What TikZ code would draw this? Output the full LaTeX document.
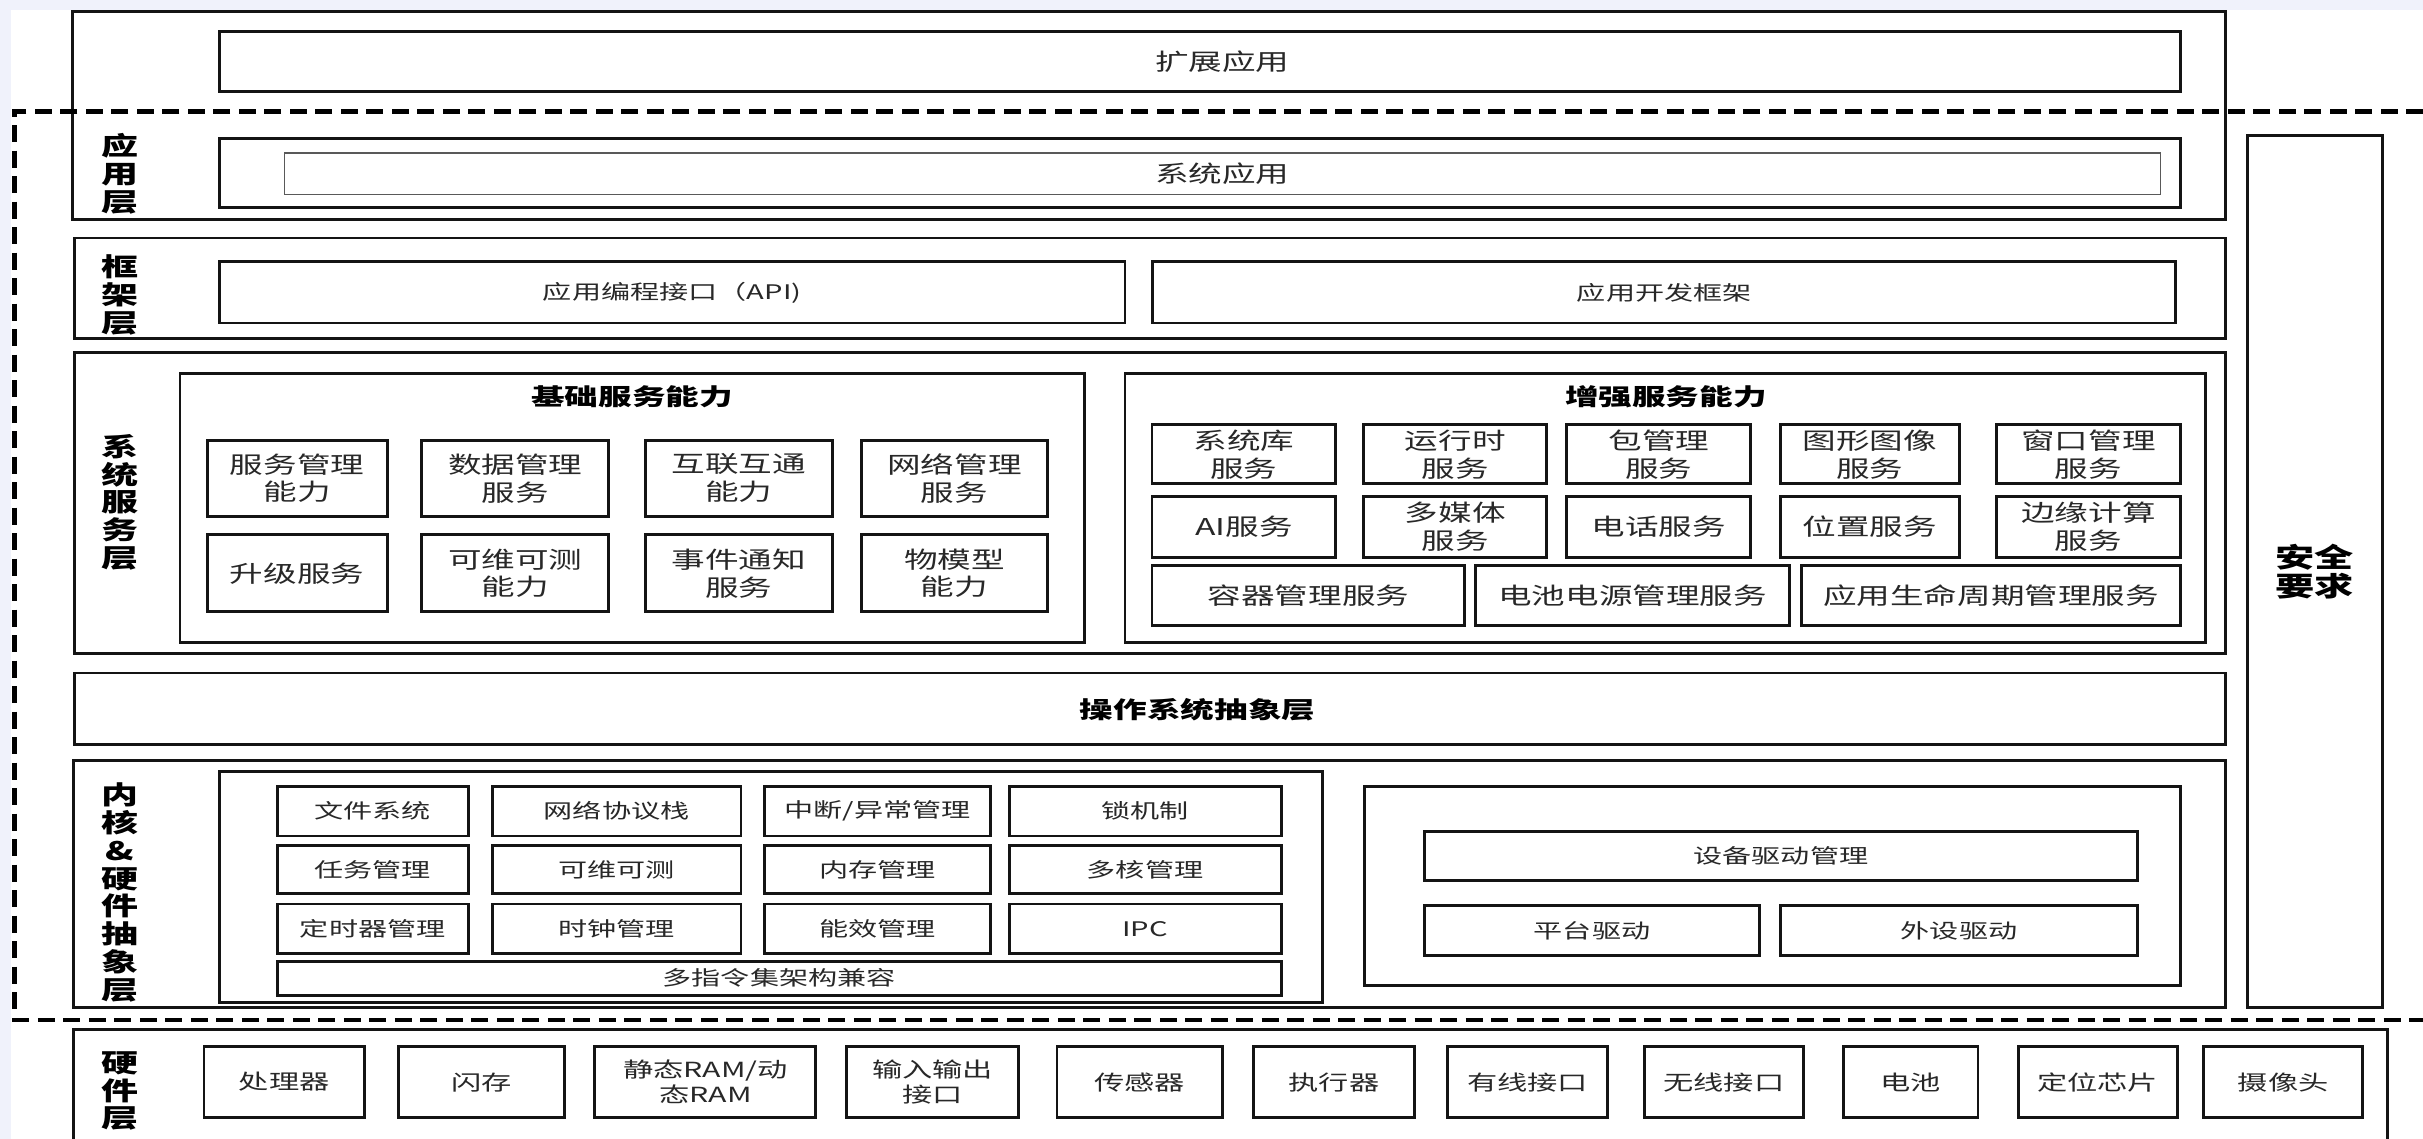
\documentclass[tikz,border=0pt]{standalone}
\usepackage{fontspec}
\setmainfont{Noto Sans CJK SC}[FakeStretch=1.45]
\usepackage{tikz}
\usetikzlibrary{positioning}

\definecolor{stripbg}{RGB}{240,242,251}
\definecolor{inkline}{RGB}{20,20,20}
\definecolor{inktext}{RGB}{40,40,40}

\begin{document}
\begin{tikzpicture}[
  x=1pt, y=-1pt,
  layer/.style={draw=inkline, line width=1.9pt, inner sep=0pt, outer sep=0pt},
  cell/.style={layer, align=center, text=inktext, font={\fontsize{15}{18}\selectfont}},
  kcell/.style={cell, font={\fontsize{13}{16}\selectfont}},
  hwcell/.style={cell, minimum height=45.5pt, font={\fontsize{13.5}{16}\selectfont}},
  lyrlabel/.style={align=center, text=black, font={\fontsize{16.5}{18}\selectfont\bfseries}},
  title/.style={text=black, font={\fontsize{15}{18}\selectfont\bfseries}},
]
\useasboundingbox (0,0) rectangle (1568,737);
\clip (0,0) rectangle (1568,737);
\fill[white] (0,0) rectangle (1568,737);
\fill[stripbg] (0,0) rectangle (1568,6.5);
\fill[stripbg] (0,0) rectangle (7,737);

% application layer
\node[layer, minimum width=1393pt, minimum height=134.5pt] (applyr) at (743.5,74.75) {};
\node[layer, minimum width=1269pt, minimum height=38.5pt] (extapp) at (776.5,39.75) {};
\node[text=inktext, font={\fontsize{15}{18}\selectfont}] (extapptxt) at (791,40) {扩展应用};
\node[layer, minimum width=1269pt, minimum height=44.5pt] (sysappout) at (776.5,111.75) {};
\node[cell, draw=black!65, line width=1pt, minimum width=1214pt, minimum height=27pt] (sysapp) at (791,112.5) {系统应用};
\node[lyrlabel] (lblapp) at (77.5,112.5) {应\\用\\层};

% framework layer
\node[layer, minimum width=1392pt, minimum height=65pt] (fwlyr) at (744,186.5) {};
\node[kcell, minimum width=586pt, minimum height=39.5pt] (api) at (435,189.25) {应用编程接口（API)};
\node[kcell, minimum width=662pt, minimum height=39.5pt] (appfw) at (1077,189.25) {应用开发框架};
\node[lyrlabel] (lblfw) at (77.5,191) {框\\架\\层};

% system service layer
\node[layer, minimum width=1392pt, minimum height=195pt] (svclyr) at (744,325.5) {};
\node[lyrlabel] (lblsvc) at (77.5,325) {系\\统\\服\\务\\层};

\node[layer, minimum width=585.5pt, minimum height=174.5pt] (basic) at (409.25,328.75) {};
\node[title] (basictitle) at (409,257) {基础服务能力};
\node[cell, minimum width=116.5pt, minimum height=49pt] (b11) at (192.25,309.5) {服务管理\\能力};
\node[cell, minimum width=121pt, minimum height=49pt] (b12) at (333.5,309.5) {数据管理\\服务};
\node[cell, minimum width=121pt, minimum height=49pt] (b13) at (478,309.5) {互联互通\\能力};
\node[cell, minimum width=120.5pt, minimum height=49pt] (b14) at (617.75,309.5) {网络管理\\服务};
\node[cell, minimum width=116.5pt, minimum height=50pt] (b21) at (192.25,371) {升级服务};
\node[cell, minimum width=121pt, minimum height=50pt] (b22) at (333.5,371) {可维可测\\能力};
\node[cell, minimum width=121pt, minimum height=50pt] (b23) at (478,371) {事件通知\\服务};
\node[cell, minimum width=120.5pt, minimum height=50pt] (b24) at (617.75,371) {物模型\\能力};

\node[layer, minimum width=699pt, minimum height=174.5pt] (enh) at (1077.5,328.75) {};
\node[title] (enhtitle) at (1078,257) {增强服务能力};
\node[cell, minimum width=119pt, minimum height=38pt] (e11) at (805,294) {系统库\\服务};
\node[cell, minimum width=118.5pt, minimum height=38pt] (e12) at (941.75,294) {运行时\\服务};
\node[cell, minimum width=119pt, minimum height=38pt] (e13) at (1073.5,294) {包管理\\服务};
\node[cell, minimum width=116pt, minimum height=38pt] (e14) at (1210,294) {图形图像\\服务};
\node[cell, minimum width=119pt, minimum height=38pt] (e15) at (1351.5,294) {窗口管理\\服务};
\node[cell, minimum width=119pt, minimum height=39pt] (e21) at (805,341) {AI服务};
\node[cell, minimum width=118.5pt, minimum height=39pt] (e22) at (941.75,341) {多媒体\\服务};
\node[cell, minimum width=119pt, minimum height=39pt] (e23) at (1073.5,341) {电话服务};
\node[cell, minimum width=116pt, minimum height=39pt] (e24) at (1210,341) {位置服务};
\node[cell, minimum width=119pt, minimum height=39pt] (e25) at (1351.5,341) {边缘计算\\服务};
\node[cell, minimum width=202.5pt, minimum height=39pt] (e31) at (846.75,385.5) {容器管理服务};
\node[cell, minimum width=203pt, minimum height=39pt] (e32) at (1056.5,385.5) {电池电源管理服务};
\node[cell, minimum width=245pt, minimum height=39pt] (e33) at (1288.5,385.5) {应用生命周期管理服务};

% security requirements
\node[layer, minimum width=87pt, minimum height=564.5pt, align=center, text=black,
  font={\fontsize{17.5}{19}\selectfont\bfseries}] (sec) at (1498,369.75) {安全\\要求};

% OS abstraction layer
\node[layer, minimum width=1392pt, minimum height=46.5pt] (osal) at (744,458.75) {};
\node[title] (osaltxt) at (775,459.5) {操作系统抽象层};

% kernel & hardware abstraction layer
\node[layer, minimum width=1392.5pt, minimum height=160pt] (krnlyr) at (743.75,572) {};
\node[lyrlabel] (lblkrn) at (77.5,577.5) {内\\核\\\&\\硬\\件\\抽\\象\\层};

\node[layer, minimum width=714pt, minimum height=149pt] (krnl) at (499,574) {};
\node[kcell, minimum width=123.5pt, minimum height=32pt] (k11) at (241.25,525) {文件系统};
\node[kcell, minimum width=161pt, minimum height=32pt] (k12) at (399,525) {网络协议栈};
\node[kcell, minimum width=146pt, minimum height=32pt] (k13) at (568,525) {中断/异常管理};
\node[kcell, minimum width=176pt, minimum height=32pt] (k14) at (741,525) {锁机制};
\node[kcell, minimum width=123.5pt, minimum height=31.5pt] (k21) at (241.25,562.75) {任务管理};
\node[kcell, minimum width=161pt, minimum height=31.5pt] (k22) at (399,562.75) {可维可测};
\node[kcell, minimum width=146pt, minimum height=31.5pt] (k23) at (568,562.75) {内存管理};
\node[kcell, minimum width=176pt, minimum height=31.5pt] (k24) at (741,562.75) {多核管理};
\node[kcell, minimum width=123.5pt, minimum height=32pt] (k31) at (241.25,601) {定时器管理};
\node[kcell, minimum width=161pt, minimum height=32pt] (k32) at (399,601) {时钟管理};
\node[kcell, minimum width=146pt, minimum height=32pt] (k33) at (568,601) {能效管理};
\node[kcell, minimum width=176pt, minimum height=32pt] (k34) at (741,601) {IPC};
\node[kcell, minimum width=649.5pt, minimum height=22pt] (k41) at (504.25,633) {多指令集架构兼容};

\node[layer, minimum width=528pt, minimum height=129pt] (drv) at (1147,573.5) {};
\node[kcell, minimum width=461pt, minimum height=31.5pt] (devmgr) at (1152.5,553.75) {设备驱动管理};
\node[kcell, minimum width=216.5pt, minimum height=32.5pt] (platdrv) at (1030.25,602.25) {平台驱动};
\node[kcell, minimum width=230.5pt, minimum height=32.5pt] (peridrv) at (1267.75,602.25) {外设驱动};

% hardware layer
\node[layer, minimum width=1497.5pt, minimum height=90pt] (hwlyr) at (796.25,711.5) {};
\node[lyrlabel] (lblhw) at (77.5,706) {硬\\件\\层};
\node[hwcell, minimum width=104pt] (hw1) at (184,700.25) {处理器};
\node[hwcell, minimum width=107pt] (hw2) at (311.5,700.25) {闪存};
\node[hwcell, minimum width=143pt] (hw3) at (456.5,700.25) {静态RAM/动\\态RAM};
\node[hwcell, minimum width=111pt] (hw4) at (603.5,700.25) {输入输出\\接口};
\node[hwcell, minimum width=107pt] (hw5) at (737.5,700.25) {传感器};
\node[hwcell, minimum width=104.5pt] (hw6) at (863.25,700.25) {执行器};
\node[hwcell, minimum width=103pt] (hw7) at (988.5,700.25) {有线接口};
\node[hwcell, minimum width=103pt] (hw8) at (1115.5,700.25) {无线接口};
\node[hwcell, minimum width=87pt] (hw9) at (1236.5,700.25) {电池};
\node[hwcell, minimum width=103pt] (hw10) at (1357.5,700.25) {定位芯片};
\node[hwcell, minimum width=103pt] (hw11) at (1477.5,700.25) {摄像头};

% trusted boundary
\coordinate (dashtr) at (1568,72);
\coordinate (dashtl) at (9.5,72);
\coordinate (dashbl) at (9.5,660);
\coordinate (dashbr) at (1568,660);
\draw[line width=3pt, dash pattern=on 11pt off 5.5pt] (dashtr) -- (dashtl) -- (dashbl) -- (dashbr);

\end{tikzpicture}
\end{document}
